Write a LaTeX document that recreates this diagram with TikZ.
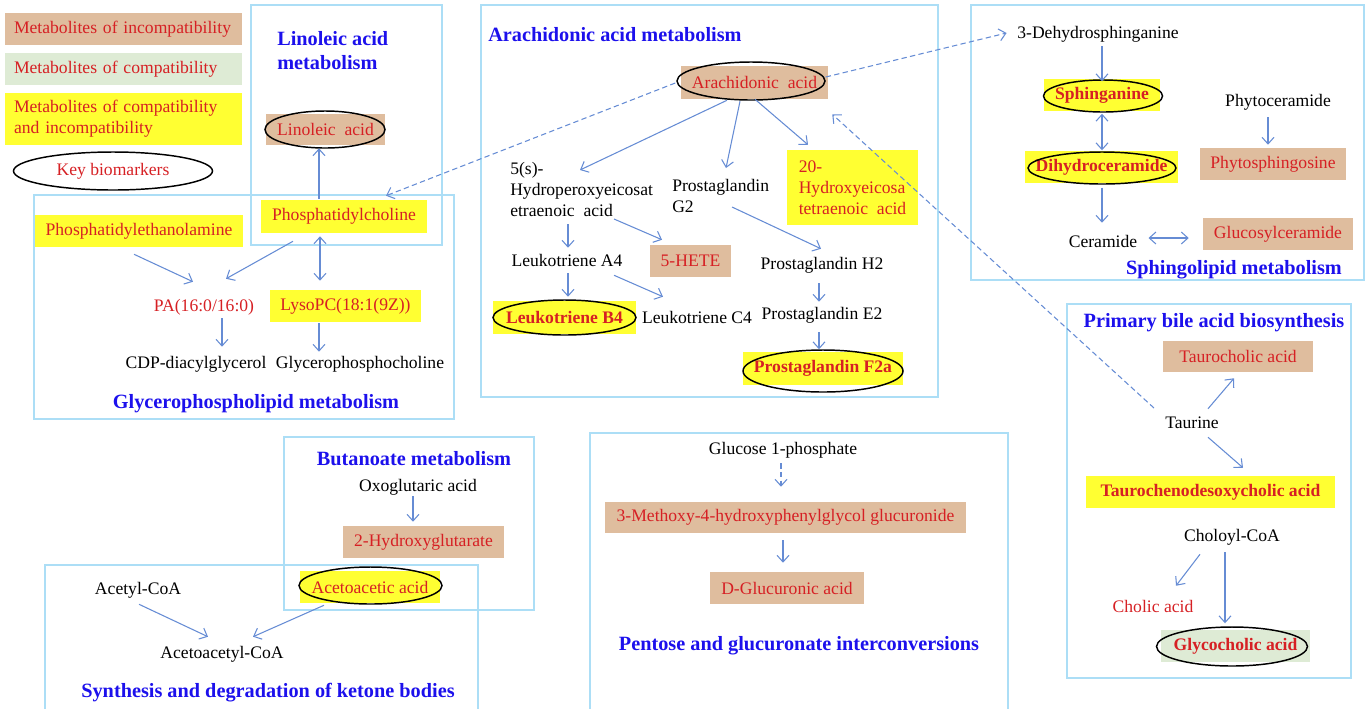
\documentclass[tikz,border=0pt]{standalone}
\usepackage{fontspec}
\setmainfont{Liberation Serif}
\usetikzlibrary{arrows.meta,shapes.geometric}
\definecolor{tanc}{RGB}{223,189,158}
\definecolor{greenc}{RGB}{222,235,213}
\definecolor{yelc}{RGB}{255,255,50}
\definecolor{redc}{RGB}{214,32,36}
\definecolor{bluec}{RGB}{28,16,236}
\definecolor{framec}{RGB}{172,222,246}
\definecolor{arrc}{RGB}{102,140,212}
\begin{document}
\begin{tikzpicture}[x=0.75pt,y=-0.75pt,
  every node/.style={font=\fontsize{13.2}{15.75}\selectfont, inner sep=0pt},
  sz/.style 2 args={minimum width=#1*0.75pt, minimum height=#2*0.75pt},
  tx/.style={text=black, minimum height=13.5pt},
  rtx/.style={text=redc, minimum height=13.5pt},
  bf/.style={font=\fontsize{13.2}{15.75}\selectfont\bfseries},
  title/.style={text=bluec, font=\fontsize{15.2}{18.6}\selectfont\bfseries},
  tanbox/.style={fill=tanc, text=redc},
  grnbox/.style={fill=greenc, text=redc},
  yelbox/.style={fill=yelc, text=redc},
  ellip/.style={ellipse, draw=black, line width=1.1pt, inner sep=0pt},
  frame/.style={draw=framec, line width=1.3pt},
  arr/.style={draw=arrc, line width=0.8pt, -{Straight Barb[length=5pt,width=9pt]}},
  darr/.style={draw=arrc, line width=0.8pt, {Straight Barb[length=5pt,width=9pt]}-{Straight Barb[length=5pt,width=9pt]}},
  dasharr/.style={arr, dash pattern=on 4pt off 2.5pt},
]
\useasboundingbox (0,0) rectangle (1370,708);

% ---------- frames ----------
\draw[frame] (251,5) rectangle (442,245);
\draw[frame] (34,195) rectangle (454,419);
\draw[frame] (481,5) rectangle (938,397);
\draw[frame] (971,5) rectangle (1364,280);
\draw[frame] (1067,304) rectangle (1351,678);
\draw[frame] (284,437) rectangle (534,610);
\draw[frame] (45,565) rectangle (478,716);
\draw[frame] (590,433) rectangle (1008,716);

% ---------- legend ----------
\node[tanbox, sz={237}{32}, text width=219*0.75pt, inner xsep=6.75pt, align=left] (lg1) at (123.5,29) {Metabolites of incompatibility};
\node[grnbox, sz={237}{32}, text width=219*0.75pt, inner xsep=6.75pt, align=left] (lg2) at (123.5,69) {Metabolites of compatibility};
\node[yelbox, sz={237}{52}, text width=219*0.75pt, inner xsep=6.75pt, align=left] (lg3) at (123.5,119) {Metabolites of compatibility\\and incompatibility};
\node[ellip, text=redc, sz={199}{38}] (lg4) at (113,171) {Key biomarkers};

% ---------- Linoleic acid metabolism ----------
\node[title, anchor=west, align=left] (tlin) at (277,50.5) {Linoleic acid\\metabolism};
\node[tanbox, sz={119}{31}] (lin) at (325.5,129.5) {Linoleic\ \ acid};
\node[ellip, sz={120}{37}] (line) at (325,129.5) {};
\node[yelbox, sz={166}{33}] (pc) at (344,216.5) {Phosphatidylcholine};

% ---------- Glycerophospholipid metabolism ----------
\node[yelbox, sz={208}{32}] (pe) at (139,231) {Phosphatidylethanolamine};
\node[rtx] (pa) at (204,307) {PA(16:0/16:0)};
\node[yelbox, sz={151}{32}] (lpc) at (345.5,306) {LysoPC(18:1(9Z))};
\node[tx] (cdp) at (196,364) {CDP-diacylglycerol};
\node[tx] (gpc) at (360,364) {Glycerophosphocholine};
\node[title] (tgly) at (256,404) {Glycerophospholipid metabolism};

% ---------- Arachidonic acid metabolism ----------
\node[title, anchor=west] (tara) at (488,35) {Arachidonic acid metabolism};
\node[tanbox, sz={147}{33}] (aa) at (754.5,82.5) {Arachidonic\ \ acid};
\node[ellip, sz={148}{38}] (aae) at (751,81) {};
\node[tx, anchor=west, align=left] (hpete) at (510,189) {5(s)-\\Hydroperoxyeicosat\\etraenoic\ \ acid};
\node[tx, anchor=west, align=left] (pgg2) at (672,195.5) {Prostaglandin\\G2};
\node[yelbox, sz={131}{75}, align=left] (hete20) at (852.5,187.5) {20-\\Hydroxyeicosa\\tetraenoic\ \ acid};
\node[tanbox, sz={81}{32}] (hete5) at (690.5,261) {5-HETE};
\node[tx] (lta4) at (567,260) {Leukotriene A4};
\node[tx] (pgh2) at (822,265) {Prostaglandin H2};
\node[yelbox, bf, sz={143}{33}] (ltb4) at (564.5,317.5) {Leukotriene B4};
\node[ellip, sz={143}{35}] (ltb4e) at (564.5,317.5) {};
\node[tx] (ltc4) at (697,317) {Leukotriene C4};
\node[tx] (pge2) at (822,315) {Prostaglandin E2};
\node[yelbox, bf, sz={160}{33}] (pgf) at (823,368.5) {Prostaglandin F2a};
\node[ellip, sz={160}{42}] (pgfe) at (823,371) {};

% ---------- Sphingolipid metabolism ----------
\node[tx] (dhs) at (1098,34) {3-Dehydrosphinganine};
\node[yelbox, bf, sz={116}{32}] (sph) at (1102,95) {Sphinganine};
\node[ellip, sz={119}{32}] (sphe) at (1103,96) {};
\node[yelbox, bf, sz={153}{32}] (dhc) at (1101.5,167) {Dihydroceramide};
\node[ellip, sz={148}{32}] (dhce) at (1102,168) {};
\node[tx] (phc) at (1278,102) {Phytoceramide};
\node[tanbox, sz={146}{32}] (phs) at (1273,164) {Phytosphingosine};
\node[tx] (cer) at (1103,241) {Ceramide};
\node[tanbox, sz={150}{32}] (glc) at (1278,234) {Glucosylceramide};
\node[title] (tsph) at (1234,270) {Sphingolipid metabolism};

% ---------- Primary bile acid biosynthesis ----------
\node[title] (tbile) at (1214,323) {Primary bile acid biosynthesis};
\node[tanbox, sz={150}{31}] (tca) at (1238,356.5) {Taurocholic acid};
\node[tx] (tau) at (1192,423) {Taurine};
\node[yelbox, bf, sz={249}{32}] (tcdca) at (1210.5,492) {Taurochenodesoxycholic acid};
\node[tx] (chl) at (1232,537) {Choloyl-CoA};
\node[rtx] (cha) at (1153,606) {Cholic acid};
\node[grnbox, bf, sz={149}{32}] (gca) at (1235.5,646) {Glycocholic acid};
\node[ellip, sz={151}{39}] (gcae) at (1232,646.5) {};

% ---------- Butanoate metabolism ----------
\node[title] (tbut) at (414,459) {Butanoate metabolism};
\node[tx] (oxo) at (418,487) {Oxoglutaric acid};
\node[tanbox, sz={161}{32}] (hg) at (423.5,542) {2-Hydroxyglutarate};
\node[yelbox, sz={140}{32}] (aca) at (370,587) {Acetoacetic acid};
\node[ellip, sz={143}{37}] (acae) at (370.5,585.5) {};

% ---------- Ketone bodies ----------
\node[tx] (acoa) at (138,590) {Acetyl-CoA};
\node[tx] (aacoa) at (222,654) {Acetoacetyl-CoA};
\node[title] (tket) at (268,693) {Synthesis and degradation of ketone bodies};

% ---------- Pentose ----------
\node[tx] (g1p) at (783,450) {Glucose 1-phosphate};
\node[tanbox, sz={361}{31}] (mhpg) at (785.5,517.5) {3-Methoxy-4-hydroxyphenylglycol glucuronide};
\node[tanbox, sz={154}{32}] (dglc) at (787,588) {D-Glucuronic acid};
\node[title] (tpen) at (799,646) {Pentose and glucuronate interconversions};

% ---------- connectors ----------
\draw[arr] ([shift={(-25,-1)}]pc.north) -- ([shift={(-6.5,3)}]lin.south);
\draw[arr] ([shift={(-5,7)}]pe.south) -- ([shift={(-11,-16)}]pa.north);
\draw[arr] ([shift={(-51,8)}]pc.south) -- ([shift={(22,-19)}]pa.north);
\draw[darr] ([shift={(-24,3)}]pc.south) -- ([shift={(-25.5,-9)}]lpc.north);
\draw[arr] ([shift={(18,2)}]pa.south) -- ([shift={(26,-8)}]cdp.north);
\draw[arr] ([shift={(-26.5,1)}]lpc.south) -- ([shift={(-41,-3)}]gpc.north);

\draw[arr] ([shift={(-27.5,1)}]aa.south) -- ([shift={(70,-19)}]hpete.west);
\draw[arr] ([shift={(-14.5,2)}]aa.south) -- ([shift={(54,-27.5)}]pgg2.west);
\draw[arr] ([shift={(0.5,0)}]aa.south) -- ([shift={(-44.5,-5)}]hete20.north);
\draw[arr] ([shift={(58,35)}]hpete.west) -- ([shift={(1,-3)}]lta4.north);
\draw[arr] ([shift={(104,30)}]hpete.west) -- ([shift={(-28.5,-5)}]hete5.north);
\draw[arr] ([shift={(60,11.5)}]pgg2.west) -- ([shift={(-1,-7)}]pgh2.north);
\draw[arr] ([shift={(1,4)}]lta4.south) -- ([shift={(3.5,-4)}]ltb4.north);
\draw[arr] ([shift={(47,6)}]lta4.south) -- ([shift={(-34,-11)}]ltc4.north);
\draw[arr] ([shift={(-3,9)}]pgh2.south) -- ([shift={(-3,-4)}]pge2.north);
\draw[arr] ([shift={(-3,8)}]pge2.south) -- ([shift={(-4,0)}]pgfe.north);

\draw[arr] ([shift={(4,3)}]dhs.south) -- ([shift={(-1,2)}]sphe.north);
\draw[darr] ([shift={(-1,1)}]sphe.south) -- ([shift={(0,-1)}]dhce.north);
\draw[arr] ([shift={(0,3)}]dhce.south) -- ([shift={(-1,-9)}]cer.north);
\draw[arr] ([shift={(-10,6)}]phc.south) -- ([shift={(-5,-3)}]phs.north);
\draw[darr] ([shift={(11,-3)}]cer.east) -- ([shift={(-14,4)}]glc.west);

\draw[arr] ([shift={(16,-5)}]tau.north) -- ([shift={(-4,6)}]tca.south);
\draw[arr] ([shift={(16,5)}]tau.south) -- ([shift={(32.5,-8)}]tcdca.north);
\draw[arr] ([shift={(-32,8)}]chl.south) -- ([shift={(23,-11)}]cha.north);
\draw[arr] ([shift={(-7,6)}]chl.south) -- ([shift={(-7,-3)}]gcae.north);

\draw[arr] ([shift={(-5,0)}]oxo.south) -- ([shift={(-10.5,-4)}]hg.north);
\draw[arr] ([shift={(1,5)}]acoa.south) -- ([shift={(-14,-8)}]aacoa.north);
\draw[arr] ([shift={(-46,2)}]aca.south) -- ([shift={(31,-8)}]aacoa.north);

\draw[dasharr] ([shift={(-2,4)}]g1p.south) -- ([shift={(-4.5,-15)}]mhpg.north);
\draw[arr] ([shift={(-2.5,7)}]mhpg.south) -- ([shift={(-4,-9)}]dglc.north);

\draw[dasharr] ([shift={(-1,2)}]aae.west) -- ([shift={(42,-4)}]pc.north);
\draw[dasharr] ([shift={(0,-4)}]aae.east) -- ([shift={(-10.5,-1)}]dhs.west);
\draw[dasharr] ([shift={(-11,-15)}]tau.west) -- ([shift={(4,15)}]aa.south east);
\end{tikzpicture}
\end{document}
